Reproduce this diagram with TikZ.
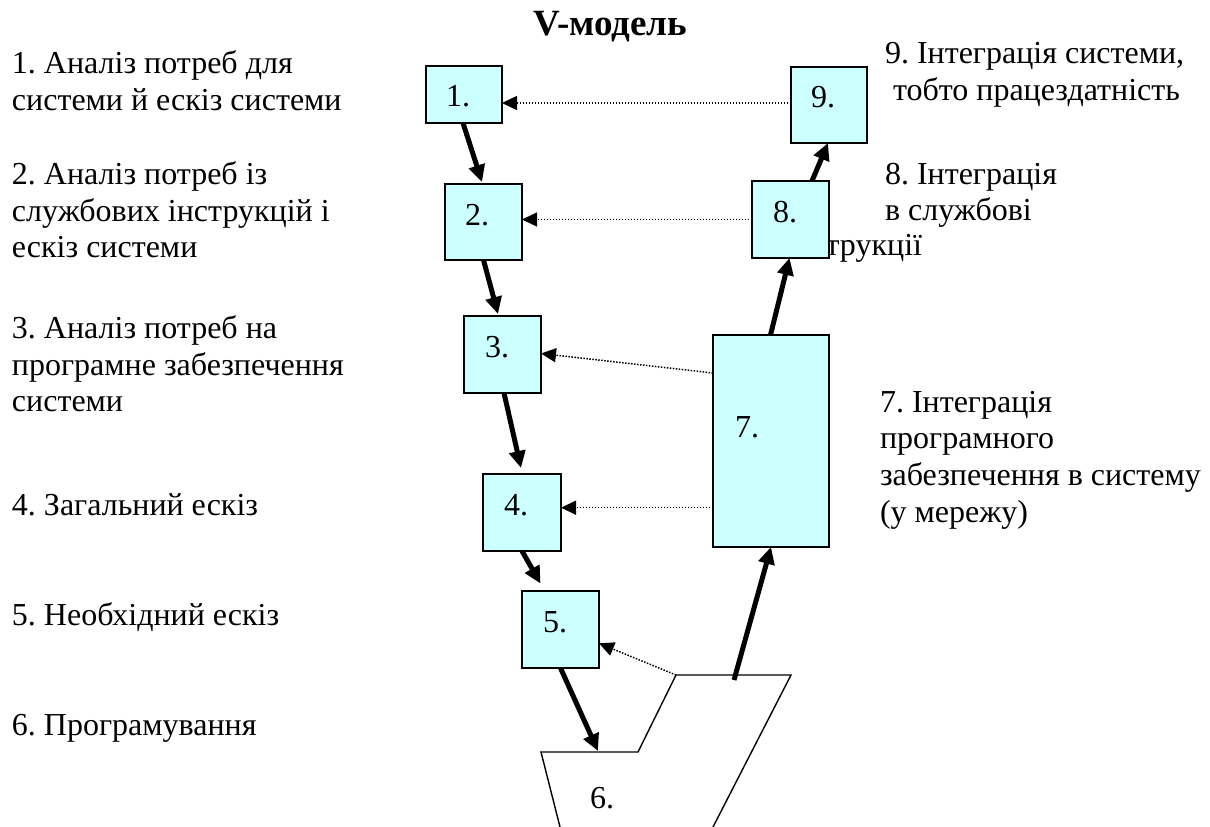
\documentclass[tikz,border=0pt]{standalone}
\usepackage{fontspec}
\setmainfont{Liberation Serif}
\usetikzlibrary{arrows.meta}
\definecolor{boxfill}{HTML}{CCFFFF}
\frenchspacing
\begin{document}
\begin{tikzpicture}[x=1pt,y=-1pt,
  txt/.style={font=\rmfamily\fontsize{32}{37}\selectfont, inner sep=0pt, outer sep=0pt, anchor=base west},
  stage/.style={draw=black, line width=1.5pt, fill=boxfill, inner sep=0pt, outer sep=0pt},
  num/.style={txt},
  flow/.style={line width=5pt, -{Triangle[length=17pt,width=16pt]}},
  link/.style={line width=1.5pt, dash pattern=on 1.5pt off 1.5pt, -{Triangle[length=15pt,width=14pt]}},
  outline/.style={line width=1.4pt, line join=miter}]
\useasboundingbox (0,0) rectangle (1210,827);

% title
\node[font=\rmfamily\fontsize{37}{42}\selectfont\bfseries, inner sep=0pt, anchor=base] (title) at (610,35) {V-модель};

% left column: descriptions of stages 1-6
\node[txt] (d1a) at (12,73)  {1. Аналіз потреб для};
\node[txt] (d1b) at (12,110) {системи й ескіз системи};
\node[txt] (d2a) at (12,184) {2. Аналіз потреб із};
\node[txt] (d2b) at (12,221) {службових інструкцій і};
\node[txt] (d2c) at (12,257) {ескіз системи};
\node[txt] (d3a) at (12,338) {3. Аналіз потреб на};
\node[txt] (d3b) at (12,375) {програмне забезпечення};
\node[txt] (d3c) at (12,411) {системи};
\node[txt] (d4a) at (12,515) {4. Загальний ескіз};
\node[txt] (d5a) at (12,625) {5. Необхідний ескіз};
\node[txt] (d6a) at (12,735) {6. Програмування};

% right column: descriptions of stages 7-9
\node[txt] (d9a) at (885,63)  {9. Інтеграція системи,};
\node[txt] (d9b) at (893,100) {тобто працездатність};
\node[txt] (d8a) at (885,184) {8. Інтеграція};
\node[txt] (d8b) at (885,220) {в службові};
\node[txt, anchor=base east] (d8c) at (922,255) {інструкції};
\node[txt] (d7a) at (880,412) {7. Інтеграція};
\node[txt] (d7b) at (880,448) {програмного};
\node[txt] (d7c) at (880,485) {забезпечення в систему};
\node[txt] (d7d) at (880,522) {(у мережу)};

% stage boxes
\node[stage, minimum width=76pt, minimum height=57pt]  (b1) at (464,94.5)   {};
\node[stage, minimum width=77pt, minimum height=76pt]  (b2) at (483.5,222)  {};
\node[stage, minimum width=77pt, minimum height=77pt]  (b3) at (502.5,354.5){};
\node[stage, minimum width=78pt, minimum height=77pt]  (b4) at (522,512.5)  {};
\node[stage, minimum width=77pt, minimum height=77pt]  (b5) at (560.5,629.5){};
\node[stage, minimum width=116pt, minimum height=212pt](b7) at (771,441)    {};
\node[stage, minimum width=77pt, minimum height=77pt]  (b8) at (790.5,219.5){};
\node[stage, minimum width=76pt, minimum height=76pt]  (b9) at (829,105)    {};

% box numbers
\node[num] (n1) at ([xshift=20pt,yshift=-40pt]b1.north west) {1.};
\node[num] (n2) at ([xshift=20pt,yshift=-41pt]b2.north west) {2.};
\node[num] (n3) at ([xshift=21pt,yshift=-41pt]b3.north west) {3.};
\node[num] (n4) at ([xshift=21pt,yshift=-41pt]b4.north west) {4.};
\node[num] (n5) at ([xshift=21pt,yshift=-41pt]b5.north west) {5.};
\node[num] (n7) at ([xshift=22pt,yshift=-102pt]b7.north west) {7.};
\node[num] (n8) at ([xshift=21pt,yshift=-41pt]b8.north west) {8.};
\node[num] (n9) at ([xshift=20pt,yshift=-40pt]b9.north west) {9.};

% stage 6: open-bottomed outline
\coordinate (q1) at (560,827);
\coordinate (q2) at (541,752);
\coordinate (q3) at (638,752);
\coordinate (q4) at (676,675);
\coordinate (q5) at (791,675);
\coordinate (q6) at (713,827);
\draw[outline] (q1) -- (q2) -- (q3) -- (q4) -- (q5) -- (q6);
\node[num] (n6) at (590,808) {6.};
\coordinate (in6)  at (598,751);
\coordinate (out6) at (734,680);

% descending branch
\draw[flow] ([xshift=-1pt]b1.south) -- ([xshift=-1.5pt,yshift=2pt]b2.north);
\draw[flow] (b2.south) -- ([xshift=-4.5pt,yshift=2pt]b3.north);
\draw[flow] ([xshift=1.5pt]b3.south) -- ([xshift=-1pt,yshift=6pt]b4.north);
\draw[flow] (b4.south) -- ([xshift=-20pt,yshift=7.5pt]b5.north);
\draw[flow] (b5.south) -- (in6);

% ascending branch
\draw[flow] (out6) -- (b7.south);
\draw[flow] ([xshift=-0.5pt]b7.north) -- ([xshift=-1pt]b8.south);
\draw[flow] ([xshift=21.5pt]b8.north) -- ([xshift=-1pt]b9.south);

% verification links
\draw[link] ([yshift=2pt]b9.west) -- ([yshift=2pt]b9.west -| b1.east);
\draw[link] (b8.west) -- (b8.west -| b2.east);
\draw[link] ([yshift=68pt]b7.west) -- ([yshift=1pt]b3.east);
\draw[link] ([yshift=-66.7pt]b7.west) -- ([yshift=-66.7pt]b7.west -| b4.east);
\draw[link] (q4) -- ([yshift=-13.8pt]b5.east);
\end{tikzpicture}
\end{document}
